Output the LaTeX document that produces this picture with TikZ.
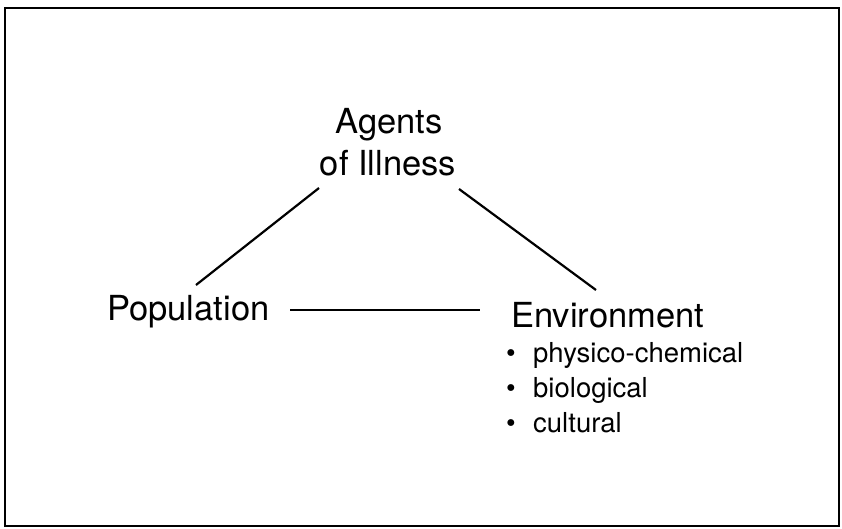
\documentclass[tikz,border=0pt]{standalone}
\usepackage{fontspec}
\setmainfont{TeX Gyre Heros}
\begin{document}
\begin{tikzpicture}[x=1pt,y=-1pt,
  big/.style={font=\fontsize{34.5}{42}\selectfont, inner sep=0pt},
  small/.style={font=\fontsize{27.5}{35}\selectfont, inner sep=0pt, anchor=base west},
  conn/.style={line width=2.2pt},
  frame/.style={line width=2pt}]
\useasboundingbox (0,0) rectangle (842,528);
\draw[frame] (5,8) rectangle (839,526);
\node[big, anchor=base] (agents) at (389,133) {Agents};
\node[big, anchor=base] (illness) at (388,175) {of Illness};
\node[big, anchor=base west] (pop) at (107,320) {Population};
\node[big, anchor=base west] (env) at (511,327) {Environment};
\node[small] (b1) at (506,362) {\textbullet};
\node[small] (b2) at (506,397) {\textbullet};
\node[small] (b3) at (506,432) {\textbullet};
\node[small] (t1) at (533,362) {physico-chemical};
\node[small] (t2) at (533,397) {biological};
\node[small] (t3) at (533,432) {cultural};
\coordinate (al) at (319,188);
\coordinate (pl) at (196,285);
\coordinate (ar) at (459,189);
\coordinate (er) at (596,290);
\coordinate (ph) at (290,310);
\coordinate (eh) at (480,310);
\draw[conn] (al) -- (pl);
\draw[conn] (ar) -- (er);
\draw[conn] (ph) -- (eh);
\end{tikzpicture}
\end{document}
